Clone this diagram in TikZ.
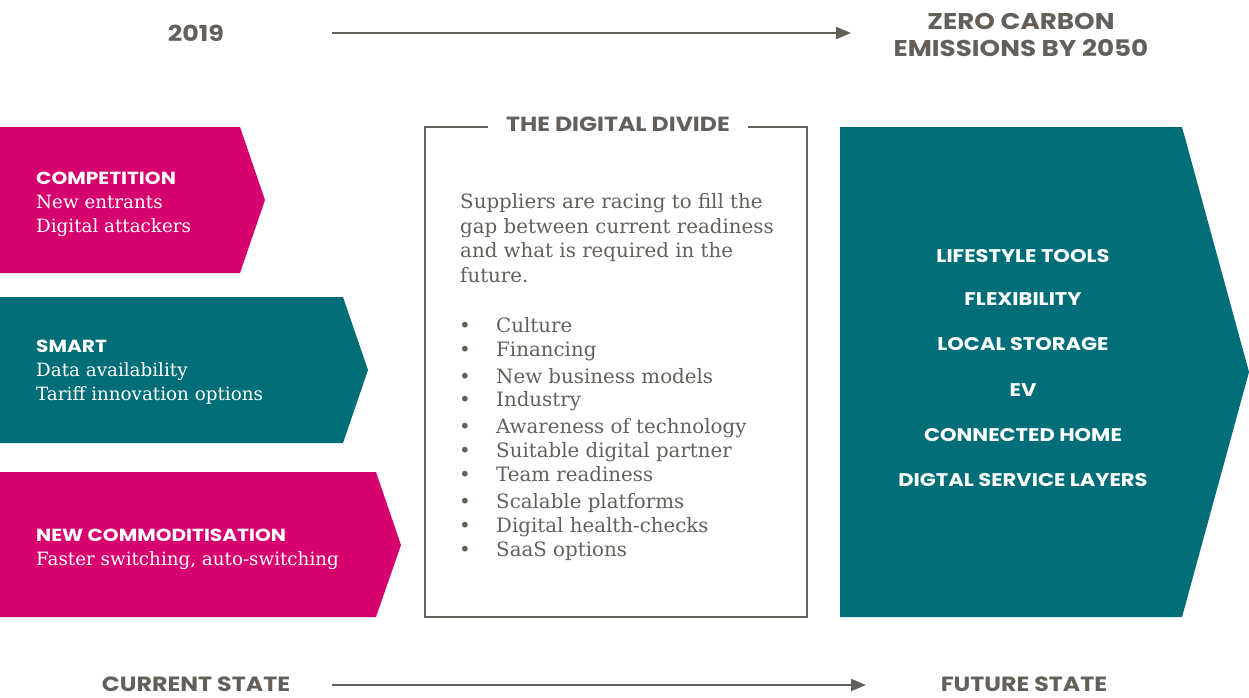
\documentclass[tikz,border=0pt]{standalone}
\usepackage{fontspec}
\setmainfont{DejaVu Serif}
\newfontfamily\headfont{Poppins}[FakeStretch=1.15]
\usetikzlibrary{arrows.meta}

\definecolor{brandpink}{HTML}{D6006F}
\definecolor{brandteal}{HTML}{006E78}
\definecolor{brandgrey}{HTML}{655F59}

\tikzset{
  head/.style={font=\headfont\bfseries\fontsize{22}{26}\selectfont, text=brandgrey, anchor=base, inner sep=0pt},
  cardhead/.style={font=\headfont\bfseries\fontsize{17.5}{22}\selectfont, text=white, anchor=base west, inner sep=0pt},
  cardtext/.style={font=\fontsize{18.3}{22}\selectfont, text=white, anchor=base west, inner sep=0pt},
  boxtext/.style={font=\fontsize{19.8}{24}\selectfont, text=brandgrey, anchor=base west, inner sep=0pt},
  goal/.style={font=\headfont\bfseries\fontsize{18.3}{22}\selectfont, text=white, anchor=base, inner sep=0pt},
  timeline/.style={draw=brandgrey, line width=2pt, -{Triangle[length=15pt,width=12pt]}},
}

\begin{document}
\begin{tikzpicture}[x=1pt,y=-1pt]
\useasboundingbox (0,0) rectangle (1249,697);

% top time line
\node[head] (start) at (196,41) {2019};
\node[head, font=\headfont\bfseries\fontsize{22.8}{26}\selectfont] (target) at (1021,29) {ZERO CARBON};
\node[head, font=\headfont\bfseries\fontsize{22.8}{26}\selectfont] (target2) at (1021,56) {EMISSIONS BY 2050};
\coordinate (topA) at (332,33);
\coordinate (topB) at (851,33);
\draw[timeline] (topA) -- (topB);

% the three drivers on the left
\fill[brandpink] (0,127) -- (240,127) -- (265,200) -- (240,273) -- (0,273) -- cycle;
\fill[brandteal] (0,297) -- (343,297) -- (368,370) -- (343,443) -- (0,443) -- cycle;
\fill[brandpink] (0,472) -- (376,472) -- (401,545) -- (376,617) -- (0,617) -- cycle;

\node[cardhead] (comp) at (36,184) {COMPETITION};
\node[cardtext] (comp1) at (36,208) {New entrants};
\node[cardtext] (comp2) at (36,232) {Digital attackers};

\node[cardhead] (smart) at (36,352) {SMART};
\node[cardtext] (smart1) at (36,376) {Data availability};
\node[cardtext] (smart2) at (36,400) {Tariff innovation options};

\node[cardhead] (commod) at (36,541) {NEW COMMODITISATION};
\node[cardtext] (commod1) at (36,565) {Faster switching, auto-switching};

% middle box
\draw[draw=brandgrey, line width=1.5pt] (425,127) rectangle (807,617);
\node[head, font=\headfont\bfseries\fontsize{20.5}{24}\selectfont, anchor=center,
      fill=white, inner xsep=18pt, inner ysep=4pt] (divide) at (618,124) {THE DIGITAL DIVIDE};

\node[boxtext] (intro1) at (460,208) {Suppliers are racing to fill the};
\node[boxtext] (intro2) at (460,233) {gap between current readiness};
\node[boxtext] (intro3) at (460,257) {and what is required in the};
\node[boxtext] (intro4) at (460,282) {future.};

\foreach \y/\txt [count=\i] in {332/Culture, 356/Financing, 383/New business models,
    406/Industry, 433/Awareness of technology, 457/Suitable digital partner,
    481/Team readiness, 508/Scalable platforms, 532/Digital health-checks, 556/SaaS options} {
  \node[boxtext] (dot\i) at (459,\y) {\textbullet};
  \node[boxtext] (item\i) at (496,\y) {\txt};
}

% future state
\fill[brandteal] (840,127) -- (1182,127) -- (1249,372) -- (1182,617) -- (840,617) -- cycle;
\foreach \y/\txt [count=\i] in {262/LIFESTYLE TOOLS, 305/FLEXIBILITY, 350/LOCAL STORAGE,
    396/EV, 441/CONNECTED HOME, 486/DIGTAL SERVICE LAYERS} {
  \node[goal] (goal\i) at (1023,\y) {\txt};
}

% bottom time line
\node[head, font=\headfont\bfseries\fontsize{20.6}{24}\selectfont] (now) at (196,691) {CURRENT STATE};
\node[head, font=\headfont\bfseries\fontsize{20.6}{24}\selectfont] (later) at (1024,691) {FUTURE STATE};
\coordinate (botA) at (332,685);
\coordinate (botB) at (866,685);
\draw[timeline] (botA) -- (botB);
\end{tikzpicture}
\end{document}
